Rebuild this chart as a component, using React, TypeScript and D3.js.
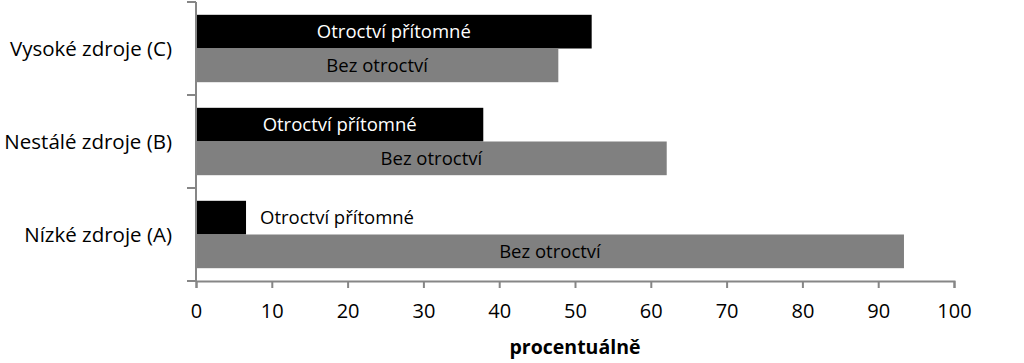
import React, { useEffect, useRef } from "react";
import * as d3 from "d3";

const categories = ["Vysoké zdroje (C)", "Nestálé zdroje (B)", "Nízké zdroje (A)"];
const slavery = [52.2, 37.9, 6.6];
const noSlavery = [47.8, 62.1, 93.4];
const seriesLabels = ["Otroctví přítomné", "Bez otroctví"];
const xTicks = [0, 10, 20, 30, 40, 50, 60, 70, 80, 90, 100];

const W = 1024;
const H = 363;
const margin = { top: 2, right: 70, bottom: 82, left: 196 };
const font = "'Open Sans', 'Noto Sans', sans-serif";

const App = () => {
  const ref = useRef<SVGSVGElement>(null);

  useEffect(() => {
    const svg = d3.select(ref.current);
    svg.selectAll("*").remove();

    const x = d3.scaleLinear().domain([0, 100]).range([margin.left, W - margin.right]);
    const y = d3.scaleBand().domain(categories).range([margin.top, H - margin.bottom]);
    const inner = d3
      .scaleBand()
      .domain(["s", "n"])
      .range([0, y.bandwidth()])
      .paddingOuter(0.38)
      .paddingInner(0);

    const axisColor = "#868686";

    // bars
    const g = svg.append("g");
    categories.forEach((c, i) => {
      const y0 = y(c)!;
      g.append("rect")
        .attr("x", x(0))
        .attr("y", y0 + inner("s")!)
        .attr("width", x(slavery[i]) - x(0))
        .attr("height", inner.bandwidth())
        .attr("fill", "#000");
      g.append("rect")
        .attr("x", x(0))
        .attr("y", y0 + inner("n")!)
        .attr("width", x(noSlavery[i]) - x(0))
        .attr("height", inner.bandwidth())
        .attr("fill", "#808080");

      // labels
      const wide = x(slavery[i]) - x(0) > 170;
      g.append("text")
        .attr("x", wide ? (x(0) + x(slavery[i])) / 2 : x(slavery[i]) + 14)
        .attr("y", y0 + inner("s")! + inner.bandwidth() / 2)
        .attr("dy", "0.36em")
        .attr("text-anchor", wide ? "middle" : "start")
        .attr("fill", wide ? "#fff" : "#000")
        .attr("font-family", font)
        .attr("font-size", 18.5)
        .text(seriesLabels[0]);
      g.append("text")
        .attr("x", (x(0) + x(noSlavery[i])) / 2)
        .attr("y", y0 + inner("n")! + inner.bandwidth() / 2)
        .attr("dy", "0.36em")
        .attr("text-anchor", "middle")
        .attr("fill", "#000")
        .attr("font-family", font)
        .attr("font-size", 18.5)
        .text(seriesLabels[1]);
    });

    // y axis
    const ya = svg.append("g");
    ya.append("line")
      .attr("x1", x(0))
      .attr("x2", x(0))
      .attr("y1", margin.top)
      .attr("y2", H - margin.bottom)
      .attr("stroke", axisColor)
      .attr("stroke-width", 2);
    const yTickPos = categories.map((c) => y(c)!).concat([H - margin.bottom]);
    yTickPos.forEach((p) => {
      ya.append("line")
        .attr("x1", x(0) - 9)
        .attr("x2", x(0))
        .attr("y1", p)
        .attr("y2", p)
        .attr("stroke", axisColor)
        .attr("stroke-width", 2);
    });
    categories.forEach((c) => {
      ya.append("text")
        .attr("x", x(0) - 24)
        .attr("y", y(c)! + y.bandwidth() / 2)
        .attr("dy", "0.36em")
        .attr("text-anchor", "end")
        .attr("font-family", font)
        .attr("font-size", 20.5)
        .attr("fill", "#000")
        .text(c);
    });

    // x axis
    const xa = svg
      .append("g")
      .attr("transform", `translate(0,${H - margin.bottom})`)
      .call(
        d3
          .axisBottom(x)
          .tickValues(xTicks)
          .tickSize(7)
          .tickPadding(16)
          .tickFormat(d3.format("d"))
      );
    xa.select(".domain").attr("stroke", axisColor).attr("stroke-width", 2);
    xa.selectAll(".tick line").attr("stroke", axisColor).attr("stroke-width", 2);
    xa.selectAll(".tick text")
      .attr("font-family", font)
      .attr("font-size", 20)
      .attr("fill", "#000");

    svg
      .append("text")
      .attr("x", (x(0) + x(100)) / 2)
      .attr("y", 354)
      .attr("text-anchor", "middle")
      .attr("font-family", font)
      .attr("font-size", 19.5)
      .attr("font-weight", "bold")
      .attr("fill", "#000")
      .text("procentuálně");
  }, []);

  return (
    <svg
      ref={ref}
      width={W}
      height={H}
      style={{ position: "absolute", left: 0, top: 0, background: "#fff" }}
    />
  );
};

export default App;
